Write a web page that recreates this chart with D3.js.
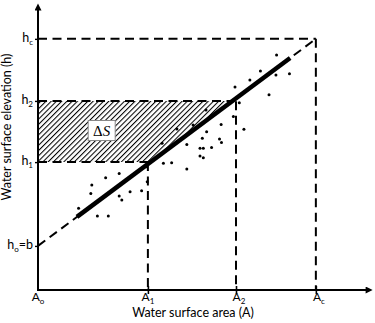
<!DOCTYPE html>
<html>
<head>
<meta charset="utf-8">
<script src="https://cdn.jsdelivr.net/npm/d3@7"></script>
<style>
  body { margin: 0; background: #fff; }
  svg { display: block; font-family: Lato, "Open Sans", sans-serif; }
</style>
</head>
<body>
<svg width="375" height="323"></svg>
<script>
// tick positions on each axis (arbitrary units, 0..100)
const areaTicks = [0, 33.3, 60, 84.2];
const areaNames = [['A', 'o', ''], ['A', '1', ''], ['A', '2', ''], ['A', 'c', '']];
const elevTicks = [15.2, 44.1, 65.2, 86.6];
const elevNames = [['h', 'o', '=b'], ['h', '1', ''], ['h', '2', ''], ['h', 'c', '']];

// thick regression segment spans these areas
const fitRange = [11.8, 76.4];

// observed points
const obsArea = [12.3, 16.3, 16.0, 20.5, 24.6, 18.0, 21.3, 24.6, 25.4, 27.9, 31.4, 33.1,
  38.0, 40.5, 45.1, 45.1, 49.1, 50.1, 52.6, 49.1, 50.1, 49.8, 51.1, 55.0, 55.6, 55.5,
  59.2, 62.4, 61.0, 59.7, 64.2, 67.4, 70.0, 72.3, 72.1, 76.2, 42.1, 37.6, 50.9, 53.9,
  47.0, 32.8];
const obsElev = [28.2, 36.2, 33.3, 38.7, 40.2, 25.5, 25.5, 32.4, 31.0, 33.9, 34.2, 37.3,
  43.7, 43.9, 41.7, 50.2, 48.9, 48.9, 49.1, 46.2, 45.6, 52.3, 54.6, 52.1, 50.9, 57.1,
  59.8, 55.4, 64.6, 70.0, 72.4, 75.5, 67.3, 81.0, 74.1, 74.6, 55.5, 50.6, 62.1, 61.0,
  56.9, 42.5];

const svg = d3.select('svg');
const x = d3.scaleLinear().domain([0, 100]).range([38, 368]);
const y = d3.scaleLinear().domain([0, 100]).range([290, 0]);

const [A0, A1, A2, Ac] = areaTicks;
const [h0, h1, h2, hc] = elevTicks;
const slope = (hc - h0) / Ac;
const hAt = a => h0 + slope * a;
const aAt = h => (h - h0) / slope;

// hatch pattern
const defs = svg.append('defs');
defs.append('pattern')
    .attr('id', 'hatch')
    .attr('patternUnits', 'userSpaceOnUse')
    .attr('width', 3.7).attr('height', 3.7)
    .attr('patternTransform', 'rotate(45)')
  .append('line')
    .attr('x1', 0).attr('y1', 0).attr('x2', 0).attr('y2', 3.7)
    .attr('stroke', '#000').attr('stroke-width', 2.1);

defs.append('marker')
    .attr('id', 'arrow')
    .attr('viewBox', '0 0 10 10')
    .attr('refX', 2).attr('refY', 5)
    .attr('markerWidth', 8).attr('markerHeight', 7)
    .attr('markerUnits', 'userSpaceOnUse')
    .attr('orient', 'auto')
  .append('path')
    .attr('d', 'M0,0 L10,5 L0,10 z')
    .attr('fill', '#000');

// storage change band between h1 and h2
svg.append('path')
    .attr('d', d3.line()([
      [x(0), y(h1)], [x(0), y(h2)], [x(aAt(h2)), y(h2)], [x(aAt(h1)), y(h1)]
    ]) + 'Z')
    .attr('fill', 'url(#hatch)');

// dashed guide lines
const dashed = [
  [[0, hc], [Ac, hc]], [[Ac, hc], [Ac, 0]],
  [[0, h2], [aAt(h2), h2]], [[A2, hAt(A2) - 1], [A2, 0]],
  [[0, h1], [aAt(h1), h1]], [[A1, h1], [A1, 0]],
  [[0, h0], [Ac, hc]]
];
const line = d3.line().x(d => x(d[0])).y(d => y(d[1]));
svg.append('g').selectAll('path')
  .data(dashed)
  .join('path')
    .attr('d', line)
    .attr('fill', 'none')
    .attr('stroke', '#000')
    .attr('stroke-width', 2)
    .attr('stroke-dasharray', '9,5.5');

// observations
svg.append('g').selectAll('circle')
  .data(obsArea)
  .join('circle')
    .attr('cx', d => x(d))
    .attr('cy', (d, i) => y(obsElev[i]))
    .attr('r', 1.5)
    .attr('fill', '#000');

// fitted segment
svg.append('path')
    .attr('d', line(fitRange.map(a => [a, hAt(a)])))
    .attr('stroke', '#000')
    .attr('stroke-width', 4.5)
    .attr('stroke-linecap', 'butt');

// delta S label
const lab = svg.append('g').attr('transform', `translate(${x(19.3)},${y(55)})`);
lab.append('rect')
    .attr('x', -13.5).attr('y', -10).attr('width', 27).attr('height', 20)
    .attr('fill', '#fff').attr('stroke', '#888').attr('stroke-width', 1);
const dt = lab.append('text')
    .attr('text-anchor', 'middle').attr('y', 5)
    .attr('font-family', '"Liberation Serif", serif')
    .attr('font-size', 15);
dt.append('tspan').text('Δ');
dt.append('tspan').attr('font-style', 'italic').text('S');

// axes
const xAxis = svg.append('g')
    .attr('transform', `translate(0,${y(0)})`)
    .call(d3.axisBottom(x).tickValues(areaTicks.slice(1)).tickSize(4).tickFormat(''));
xAxis.select('.domain').remove();
xAxis.selectAll('.tick line').attr('y1', -4).attr('stroke-width', 1.6);

const yAxis = svg.append('g')
    .attr('transform', `translate(${x(0)},0)`)
    .call(d3.axisLeft(y).tickValues(elevTicks).tickSize(3).tickFormat(''));
yAxis.select('.domain').remove();
yAxis.selectAll('.tick line').attr('stroke-width', 1.4);

svg.append('line')
    .attr('x1', x(0)).attr('y1', y(0)).attr('x2', 367).attr('y2', y(0))
    .attr('stroke', '#000').attr('stroke-width', 2)
    .attr('marker-end', 'url(#arrow)');
svg.append('line')
    .attr('x1', x(0)).attr('y1', y(0) + 1).attr('x2', x(0)).attr('y2', 9)
    .attr('stroke', '#000').attr('stroke-width', 2)
    .attr('marker-end', 'url(#arrow)');

// tick labels with subscripts
function subLabel(g, parts) {
  g.append('tspan').text(parts[0]);
  g.append('tspan').attr('font-size', 8).attr('dy', 3).text(parts[1]);
  if (parts[2]) g.append('tspan').attr('dy', -3).text(parts[2]);
}

areaTicks.forEach((a, i) => {
  const t = svg.append('text')
      .attr('x', x(a) + (i > 1 ? 3 : 0)).attr('y', 301)
      .attr('text-anchor', 'middle')
      .attr('font-size', 12);
  subLabel(t, areaNames[i]);
});

elevTicks.forEach((h, i) => {
  const t = svg.append('text')
      .attr('x', x(0) - 5).attr('y', y(h) + 3)
      .attr('text-anchor', 'end')
      .attr('font-size', 12.5);
  subLabel(t, elevNames[i]);
});

svg.append('text')
    .attr('x', 193).attr('y', 317)
    .attr('text-anchor', 'middle')
    .attr('font-size', 12.5)
    .text('Water surface area (A)');

svg.append('text')
    .attr('transform', `translate(11,127) rotate(-90)`)
    .attr('text-anchor', 'middle')
    .attr('font-size', 12.5)
    .text('Water surface elevation (h)');
</script>
</body>
</html>
